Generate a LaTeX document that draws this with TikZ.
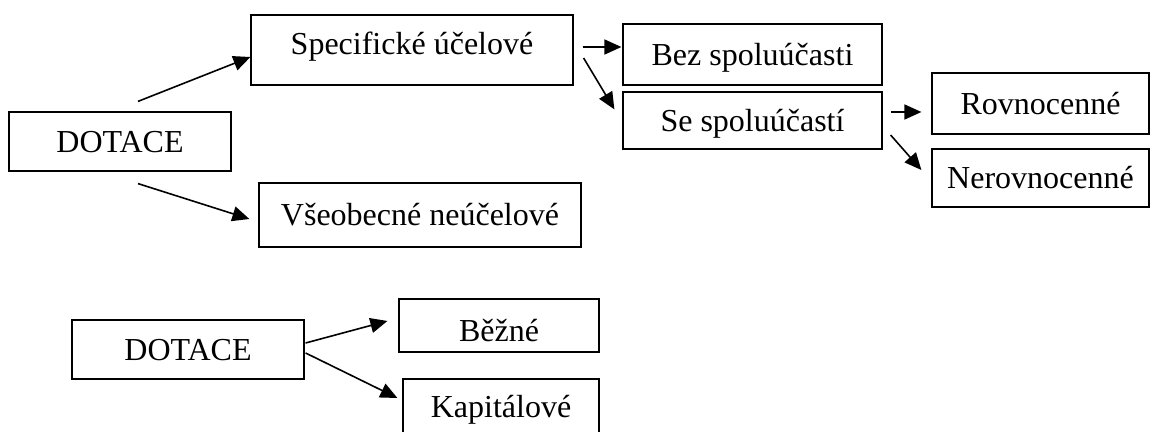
\documentclass[tikz,border=0pt]{standalone}
\usepackage{fontspec}
\setmainfont{Liberation Serif}
\usetikzlibrary{arrows.meta, calc, positioning}

\begin{document}
\begin{tikzpicture}[x=0.5pt, y=-0.5pt]
    \path[use as bounding box, clip] (0,0) rectangle (1152,432);
    \begin{scope}[every node/.style = {font=\fontsize{16}{19}\selectfont, draw, line width=0.6pt, inner sep=0pt, text height=10.6pt, text depth=0pt, anchor=center},
                  arr/.style = {line width=0.8pt, -{Triangle[length=8.5pt, width=7.5pt]}}]
        % first tree
        \node[minimum width=111pt, minimum height=29.5pt] (D1) at (120,141.5) {DOTACE};
        \node[minimum width=161pt, minimum height=35pt, text depth=6.5pt] (S1) at (412,50) {Specifické účelové};
        \node[minimum width=161pt, minimum height=32pt] (V1) at (420,215) {Všeobecné neúčelové};
        \node[minimum width=129.5pt, minimum height=30.5pt] (B1) at (752.5,54.5) {Bez spoluúčasti};
        \node[minimum width=129.5pt, minimum height=28.5pt] (SS) at (752.5,120.5) {Se spoluúčastí};
        \node[minimum width=108.5pt, minimum height=30.5pt] (R1) at (1040.5,103.5) {Rovnocenné};
        \node[minimum width=108.5pt, minimum height=29pt] (N1) at (1040.5,178) {Nerovnocenné};
        % second tree
        \node[minimum width=116pt, minimum height=29.5pt] (D2) at (188,349.5) {DOTACE};
        \node[minimum width=100pt, minimum height=26.5pt, text height=16.1pt] (B2) at (499,325.5) {Běžné};
        \node[minimum width=98pt, minimum height=28pt] (K2) at (501,407) {Kapitálové};

        \draw[arr] ($(D1.north)+(18,-10)$) -- ($(S1.west)+(0,7)$);
        \draw[arr] ($(D1.south)+(18,12)$) -- ($(V1.west)+(-9,4)$);
        \draw[arr] ($(S1.east)+(9,-3)$) -- ($(B1.west)+(-1,-7.5)$);
        \draw[arr] ($(S1.east)+(10,8)$) -- ($(SS.north west)+(-8,18)$);
        \draw[arr] ($(SS.east)+(8,-8.5)$) -- ($(R1.west)+(-10,8.5)$);
        \draw[arr] ($(SS.east)+(8,14.5)$) -- ($(N1.west)+(-10,-8)$);
        \draw[arr] ($(D2.east)+(1,-6.5)$) -- ($(B2.west)+(-11,-4.5)$);
        \draw[arr] ($(D2.east)+(1,3.5)$) -- ($(K2.west)+(-5,-9)$);
    \end{scope}
\end{tikzpicture}
\end{document}
